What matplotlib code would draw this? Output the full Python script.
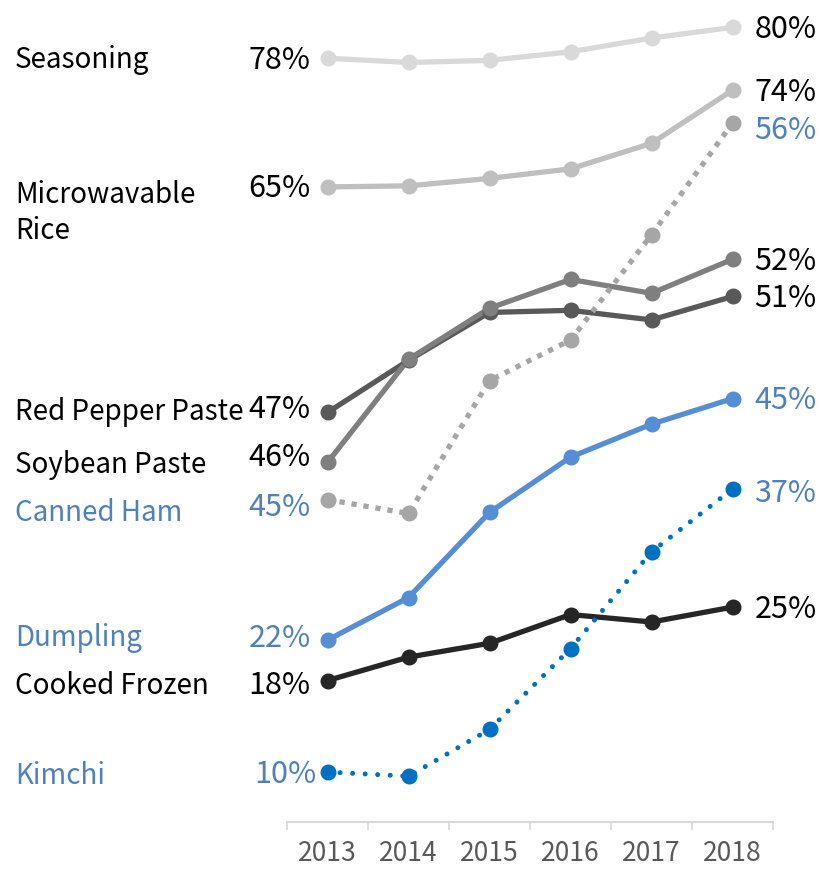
import matplotlib.pyplot as plt

plt.rcParams['font.family'] = ['Noto Sans CJK KR', 'DejaVu Sans']

# share of households buying each product, by year (%)
years = ['2013', '2014', '2015', '2016', '2017', '2018']
products = ['Seasoning', 'Microwavable\nRice', 'Red Pepper Paste', 'Soybean Paste',
            'Canned Ham', 'Dumpling', 'Cooked Frozen', 'Kimchi']

seasoning = [77.1, 76.7, 76.9, 77.7, 79.0, 80.0]
microwavable_rice = [65.0, 65.1, 65.8, 66.7, 69.1, 74.1]
red_pepper_paste = [43.8, 48.7, 53.2, 53.4, 52.5, 54.7]
soybean_paste = [39.1, 48.8, 53.6, 56.3, 55.0, 58.2]
canned_ham = [35.6, 34.3, 46.8, 50.6, 60.5, 71.0]
dumpling = [22.4, 26.4, 34.4, 39.6, 42.7, 45.1]
cooked_frozen = [18.6, 20.8, 22.1, 24.8, 24.1, 25.5]
kimchi = [10.0, 9.6, 14.0, 21.6, 30.7, 36.6]

start_labels = ['78%', '65%', '47%', '46%', '45%', '22%', '18%', '10%']
end_labels = ['80%', '74%', '51%', '52%', '56%', '45%', '25%', '37%']

series = [seasoning, microwavable_rice, red_pepper_paste, soybean_paste,
          canned_ham, dumpling, cooked_frozen, kimchi]

blue_txt = '#4F81BD'
# line colour, line style, label colour, name dy, start dx, start dy, end dy (pixels)
styles = [
    ('#D9D9D9', '-', 'black', -2, -17, -2, -2),
    ('#BFBFBF', '-', 'black', -26, -17, -2, -2),
    ('#595959', '-', 'black', 0, -17, 3, -2),
    ('#7F7F7F', '-', 'black', -3, -17, 5, -2),
    ('#A6A6A6', 'square', blue_txt, -13, -17, -8, -7),
    ('#558ED5', '-', blue_txt, 2, -17, 2, -2),
    ('#262626', '-', 'black', -5, -17, -5, -2),
    ('#0070C0', 'round', blue_txt, -4, -11, -3, -4),
]

fig = plt.figure(figsize=(8.21, 8.69), dpi=100)
ax = fig.add_axes([0.3496, 0.0541, 0.592, 0.934])

x = list(range(len(years)))
for vals, name, lab0, lab1, st in zip(series, products, start_labels, end_labels, styles):
    color, ls, tcol, dy_name, dx0, dy0, dy1 = st
    if ls == 'square':
        ax.plot(x, vals, color=color, lw=3.8, linestyle=(0, (1, 1.3)),
                dash_capstyle='butt', zorder=2)
    elif ls == 'round':
        ax.plot(x, vals, color=color, lw=3.6, linestyle=(0, (0.01, 2.5)),
                dash_capstyle='round', zorder=3)
    else:
        ax.plot(x, vals, color=color, lw=3.8, solid_capstyle='round', zorder=2)
    ax.plot(x, vals, 'o', color=color, ms=10.5, zorder=3)

    ax.annotate(name, xy=(15 / 821, vals[0]), xycoords=('figure fraction', 'data'),
                xytext=(0, dy_name), textcoords='offset pixels',
                ha='left', va='center', fontsize=20, color=tcol, linespacing=1.25)
    ax.annotate(lab0, xy=(0, vals[0]), xytext=(dx0, dy0), textcoords='offset pixels',
                ha='right', va='center', fontsize=22, color=tcol)
    ax.annotate(lab1, xy=(5, vals[-1]), xytext=(22, dy1), textcoords='offset pixels',
                ha='left', va='center', fontsize=22, color=tcol)

ax.set_xlim(-0.5, 5.5)
ax.set_ylim(5.3, 81.6)
ax.set_xticks(x)
ax.set_xticklabels(years, fontsize=19, color='#595959')
ax.set_xticks([i - 0.5 for i in range(len(years) + 1)], minor=True)
ax.tick_params(axis='x', which='major', length=0, pad=13)
ax.tick_params(axis='x', which='minor', length=6, color='#D9D9D9', width=1.2)
ax.set_yticks([])
for side in ['top', 'right', 'left']:
    ax.spines[side].set_visible(False)
ax.spines['bottom'].set_color('#D9D9D9')
ax.spines['bottom'].set_linewidth(1.5)

fig.savefig('out.png', dpi=100)
